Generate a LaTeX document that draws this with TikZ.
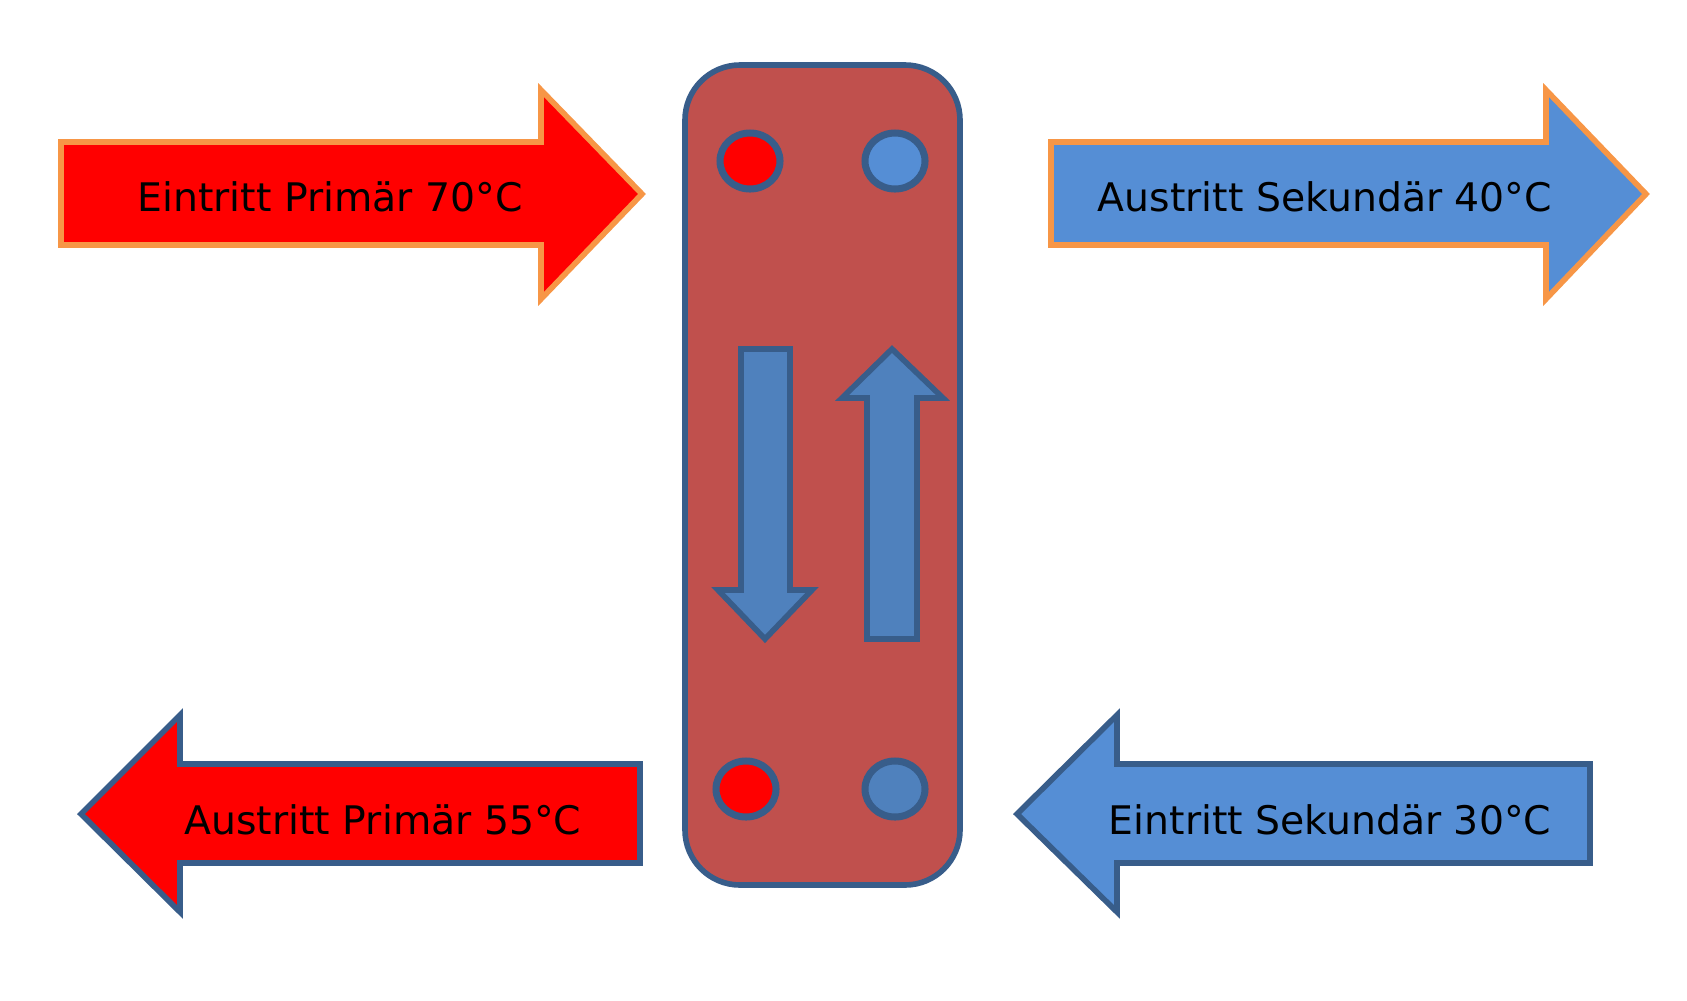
\documentclass[tikz,border=0pt]{standalone}
\usepackage{fontspec}
\setmainfont{DejaVu Sans}
\usetikzlibrary{shapes.geometric}
\definecolor{hot}{HTML}{FF0000}
\definecolor{cold}{HTML}{558ED5}
\definecolor{coldd}{HTML}{4F81BD}
\definecolor{plate}{HTML}{C0504D}
\definecolor{rim}{HTML}{385D8A}
\definecolor{glow}{HTML}{F79646}
\begin{document}
\begin{tikzpicture}[x=0.1mm,y=-0.1mm,line width=1.6pt,
    flowtext/.style={font=\fontsize{11.2}{13}\selectfont,inner sep=0pt},
    port/.style={ellipse,draw=rim,line width=2pt,minimum width=6mm,minimum height=5.6mm,inner sep=0pt}]
    \useasboundingbox (0,0) rectangle (1687,1000);
    % plate
    \draw[fill=plate,draw=rim,rounded corners=5.5mm] (685,65) rectangle (960,885);
    % ports
    \node[port,fill=hot] (inP) at (750,161) {};
    \node[port,fill=cold] (outS) at (895,161) {};
    \node[port,fill=hot] (outP) at (746,789) {};
    \node[port,fill=coldd] (inS) at (895,789) {};
    % flow inside
    \draw[fill=coldd,draw=rim] (741,349) -- (790,349) -- (790,590) -- (812,590)
        -- (765,639) -- (718,590) -- (741,590) -- cycle;
    \draw[fill=coldd,draw=rim] (867,639) -- (867,398) -- (842,398) -- (892,349)
        -- (943,398) -- (917,398) -- (917,639) -- cycle;
    % primary side
    \draw[fill=hot,draw=glow] (61,142) -- (541,142) -- (541,90) -- (642,194)
        -- (541,299) -- (541,245) -- (61,245) -- cycle;
    \draw[fill=hot,draw=rim] (81,814) -- (180,715) -- (180,764) -- (640,764)
        -- (640,863) -- (180,863) -- (180,912) -- cycle;
    % secondary side
    \draw[fill=cold,draw=glow] (1051,142) -- (1546,142) -- (1546,90) -- (1646,194)
        -- (1546,299) -- (1546,245) -- (1051,245) -- cycle;
    \draw[fill=cold,draw=rim] (1017,814) -- (1117,715) -- (1117,764) -- (1590,764)
        -- (1590,863) -- (1117,863) -- (1117,912) -- cycle;
    % labels
    \node[flowtext] (tPin) at (330,197) {Eintritt Primär 70°C};
    \node[flowtext] (tSout) at (1325,197) {Austritt Sekundär 40°C};
    \node[flowtext] (tPout) at (383,820) {Austritt Primär 55°C};
    \node[flowtext] (tSin) at (1330,820) {Eintritt Sekundär 30°C};
\end{tikzpicture}
\end{document}
